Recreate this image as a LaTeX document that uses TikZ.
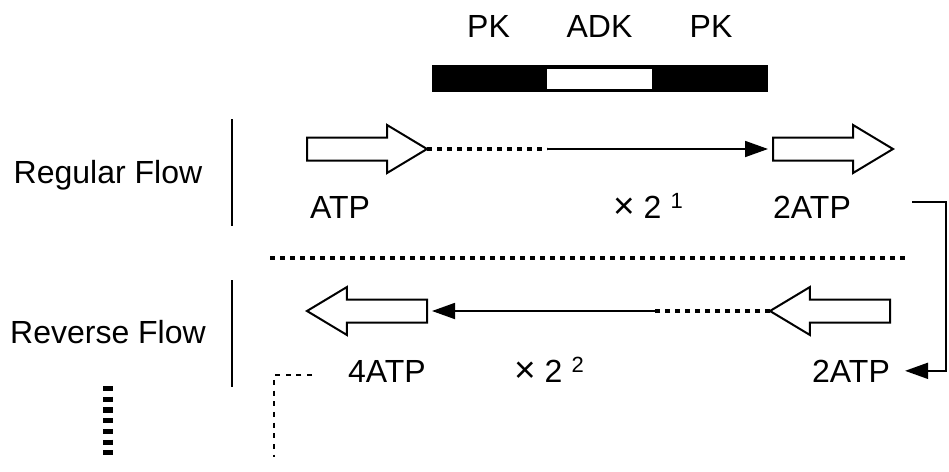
\documentclass[tikz,border=0pt]{standalone}
\usepackage{fontspec}
\setmainfont{Liberation Sans}
\usetikzlibrary{shapes.arrows,arrows.meta,positioning}

\newcommand{\pw}[1]{\hspace{9pt}\raisebox{10pt}{\fontsize{22}{22}\selectfont #1}}
\newcommand{\tms}{{\fontsize{37}{37}\selectfont ×}}

\tikzset{
  lbl/.style={inner sep=0pt, font=\fontsize{32}{36}\selectfont},
  barseg/.style={rectangle, inner sep=0pt, outer sep=0pt, minimum height=27pt},
  blockarrow/.style={single arrow, draw, line width=2pt, fill=white,
    inner xsep=0pt, inner ysep=10.5pt, outer sep=0pt,
    single arrow head extend=12.5pt, single arrow tip angle=62,
    minimum height=120pt},
  flow/.style={line width=1.8pt, -{Triangle[length=23pt,width=16pt]}},
  dotflow/.style={line width=4.5pt, dash pattern=on 5pt off 5pt},
  sidebar/.style={line width=2.5pt}
}

\begin{document}
\begin{tikzpicture}[x=1pt,y=-1pt]
\useasboundingbox (0,0) rectangle (949,471);

% Draw the bar with the domains
\node[barseg, fill=black, minimum width=113pt] (pkL) at (488.5,78.5) {};
\node[barseg, fill=white, draw=black, line width=3.5pt, minimum width=109pt,
  minimum height=23.5pt, right=0pt of pkL] (adk) {};
\node[barseg, fill=black, minimum width=114pt, right=0pt of adk] (pkR) {};
\node[lbl, above=27pt of pkL] (pkLlbl) {PK};
\node[lbl, above=28.75pt of adk] (adklbl) {ADK};
\node[lbl, above=27pt of pkR] (pkRlbl) {PK};

% Row labels
\node[lbl, anchor=base] (regular) at (108,183) {Regular Flow};
\draw[sidebar] (232,119) -- (232,226);
\node[lbl, anchor=base] (reverse) at (108,343) {Reverse Flow};
\draw[sidebar] (232,280) -- (232,387);

% Regular flow
\node[blockarrow, anchor=tail] (atpA) at (307,149) {};
\node[blockarrow, anchor=tail] (atpB) at (773,149) {};
\coordinate (midA) at (547,149);
\draw[dotflow] (atpA.tip) -- (midA);
\draw[flow, shorten >=5pt] (midA) -- (atpB.tail);

\node[lbl, anchor=base] (atpOne) at (340,218) {ATP};
\node[lbl, anchor=base west] (timesA) at (613,218) {\tms\ 2\pw{1}};
\node[lbl, anchor=base] (atpTwoA) at (812,218) {2ATP};

% Separator
\coordinate (sepL) at (270,258);
\coordinate (sepR) at (905,258);
\draw[dotflow] (sepL) -- (sepR);

% Reverse flow
\node[blockarrow, anchor=tail, shape border rotate=180] (atpC) at (890,311) {};
\node[blockarrow, anchor=tail, shape border rotate=180] (atpD) at (427,311) {};
\coordinate (midB) at (655,311);
\draw[dotflow] (atpC.tip) -- (midB);
\draw[flow, shorten >=5pt] (midB) -- (atpD.tail);

\node[lbl, anchor=base] (atpFour) at (387,382) {4ATP};
\node[lbl, anchor=base west] (timesB) at (514,382) {\tms\ 2\pw{2}};
\node[lbl, anchor=base] (atpTwoB) at (851,382) {2ATP};

% Loop back from regular to reverse
\coordinate (loopstart) at (912,202);
\draw[flow] (loopstart) -- (946,202) |- ([xshift=15pt]atpTwoB.east);

% Continuation marks
\coordinate (legA) at (312,375);
\coordinate (legB) at (274,375);
\coordinate (legC) at (274,457);
\draw[line width=2pt, dash pattern=on 5pt off 5.7pt] (legA) -- (legB) -- (legC);
\coordinate (tickTop) at (108,386);
\coordinate (tickBot) at (108,455);
\draw[line width=10pt, dash pattern=on 5.2pt off 5.5pt] (tickTop) -- (tickBot);

\end{tikzpicture}
\end{document}
